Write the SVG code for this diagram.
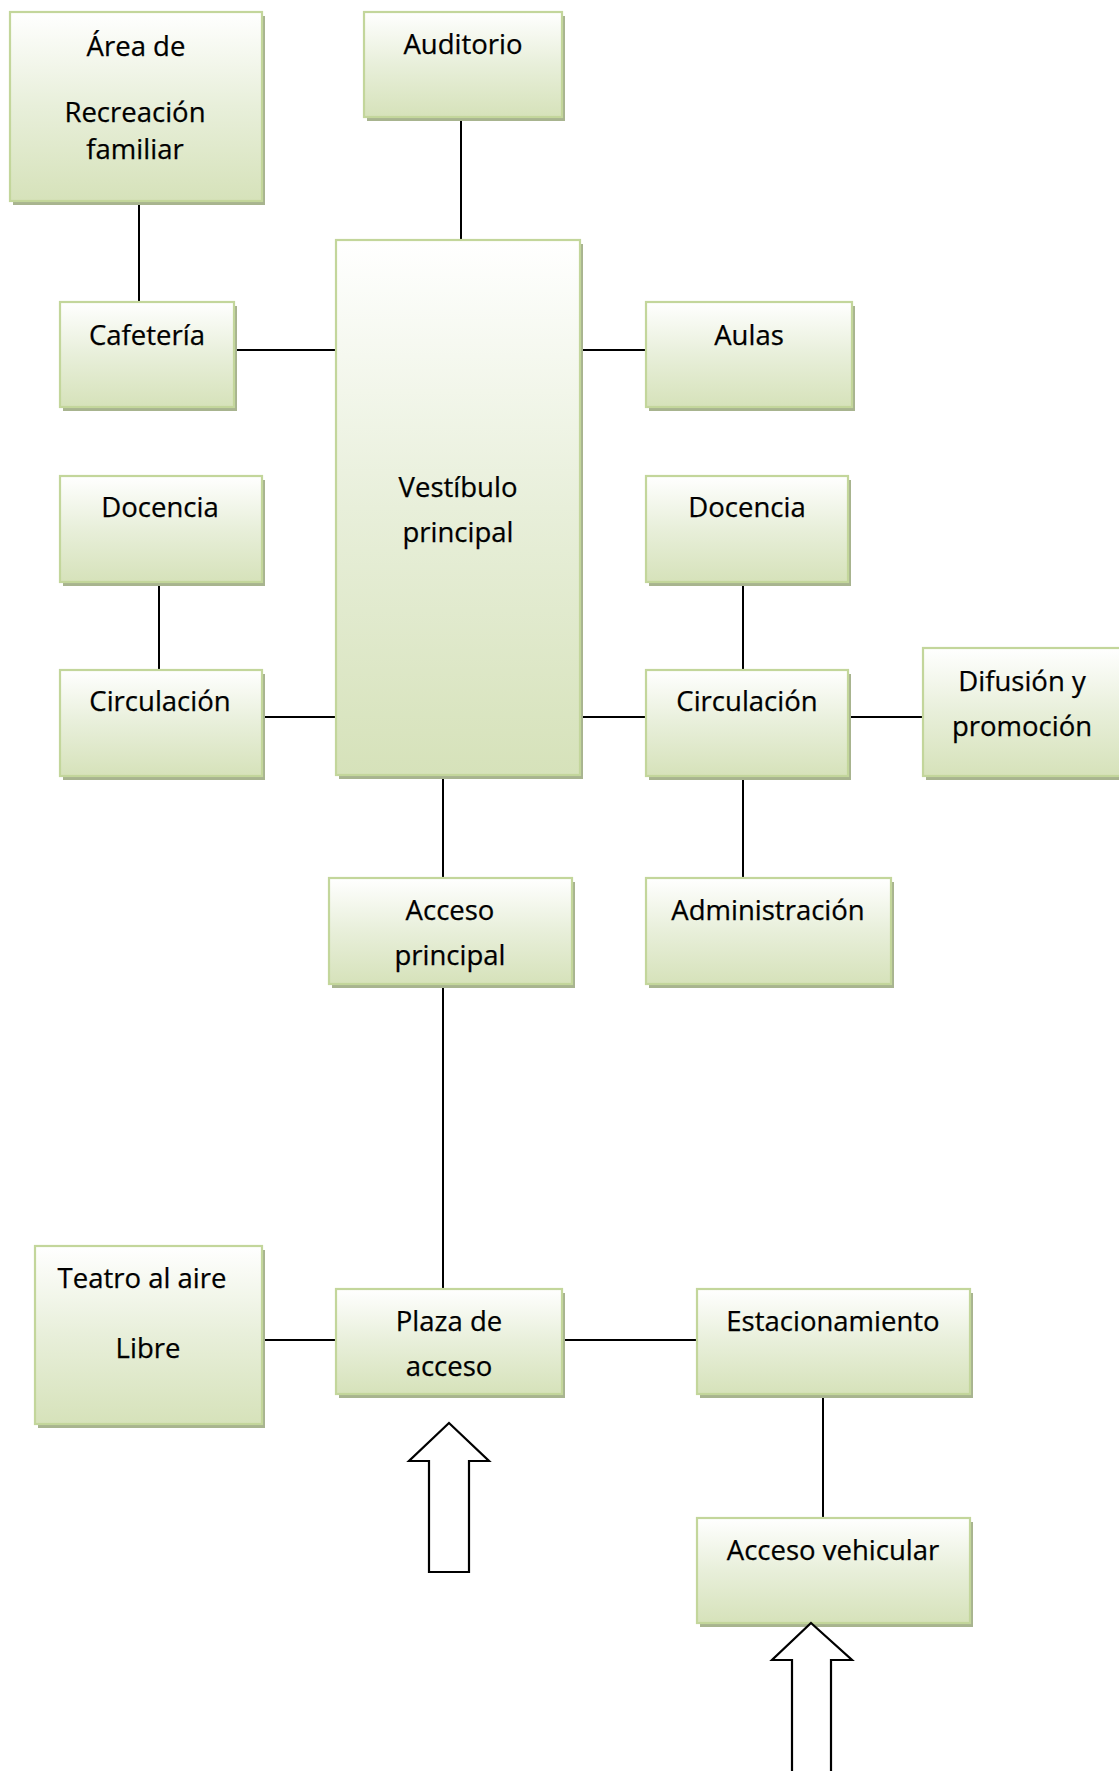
<svg xmlns="http://www.w3.org/2000/svg" width="1119" height="1771" viewBox="0 0 1119 1771">
<defs>
<linearGradient id="g" x1="0" y1="0" x2="0" y2="1">
<stop offset="0" stop-color="#ffffff"/>
<stop offset="0.5" stop-color="#e8efda"/>
<stop offset="1" stop-color="#d6e2ba"/>
</linearGradient>
</defs>
<style>
.sh{fill:#a8b48f;}
.bx{fill:url(#g);stroke:#c3d69b;stroke-width:2.2;}
.t{font-family:"Open Sans","Noto Sans",sans-serif;font-size:27.5px;fill:#000;text-anchor:middle;stroke:#000;stroke-width:0.25;}
.c{stroke:#000;stroke-width:2;fill:none;}
.ar{fill:#fff;stroke:#000;stroke-width:2.2;stroke-linejoin:miter;}
</style>
<rect width="1119" height="1771" fill="#fff"/>
<g id="connectors">
<line class="c" x1="139" y1="201" x2="139" y2="302"/>
<line class="c" x1="461" y1="117" x2="461" y2="240"/>
<line class="c" x1="234" y1="350" x2="336" y2="350"/>
<line class="c" x1="580" y1="350" x2="646" y2="350"/>
<line class="c" x1="159" y1="582" x2="159" y2="670"/>
<line class="c" x1="262" y1="717" x2="336" y2="717"/>
<line class="c" x1="580" y1="717" x2="646" y2="717"/>
<line class="c" x1="743" y1="582" x2="743" y2="670"/>
<line class="c" x1="848" y1="717" x2="923" y2="717"/>
<line class="c" x1="743" y1="776" x2="743" y2="878"/>
<line class="c" x1="443" y1="775" x2="443" y2="878"/>
<line class="c" x1="443" y1="984" x2="443" y2="1289"/>
<line class="c" x1="262" y1="1340" x2="336" y2="1340"/>
<line class="c" x1="562" y1="1340" x2="697" y2="1340"/>
<line class="c" x1="823" y1="1394" x2="823" y2="1518"/>
</g>
<g id="n-area"><rect class="sh" x="13" y="16" width="252" height="189"/><rect class="bx" x="10" y="12" width="252" height="189"/><text class="t" x="136" y="56">Área de</text><text class="t" x="135" y="122">Recreación</text><text class="t" x="135" y="159">familiar</text></g>
<g id="n-auditorio"><rect class="sh" x="367" y="16" width="198" height="105"/><rect class="bx" x="364" y="12" width="198" height="105"/><text class="t" x="463" y="54">Auditorio</text></g>
<g id="n-cafeteria"><rect class="sh" x="63" y="306" width="174" height="105"/><rect class="bx" x="60" y="302" width="174" height="105"/><text class="t" x="147" y="345">Cafetería</text></g>
<g id="n-vestibulo"><rect class="sh" x="339" y="244" width="244" height="535"/><rect class="bx" x="336" y="240" width="244" height="535"/><text class="t" x="458" y="497">Vestíbulo</text><text class="t" x="458" y="542">principal</text></g>
<g id="n-aulas"><rect class="sh" x="649" y="306" width="206" height="105"/><rect class="bx" x="646" y="302" width="206" height="105"/><text class="t" x="749" y="345">Aulas</text></g>
<g id="n-docencia-l"><rect class="sh" x="63" y="480" width="202" height="106"/><rect class="bx" x="60" y="476" width="202" height="106"/><text class="t" x="160" y="517">Docencia</text></g>
<g id="n-docencia-r"><rect class="sh" x="649" y="480" width="202" height="106"/><rect class="bx" x="646" y="476" width="202" height="106"/><text class="t" x="747" y="517">Docencia</text></g>
<g id="n-circ-l"><rect class="sh" x="63" y="674" width="202" height="106"/><rect class="bx" x="60" y="670" width="202" height="106"/><text class="t" x="160" y="711">Circulación</text></g>
<g id="n-circ-r"><rect class="sh" x="649" y="674" width="202" height="106"/><rect class="bx" x="646" y="670" width="202" height="106"/><text class="t" x="747" y="711">Circulación</text></g>
<g id="n-difusion"><rect class="sh" x="926" y="652" width="200" height="128"/><rect class="bx" x="923" y="648" width="200" height="128"/><text class="t" x="1022" y="691">Difusión y</text><text class="t" x="1022" y="736">promoción</text></g>
<g id="n-acceso-principal"><rect class="sh" x="332" y="882" width="243" height="106"/><rect class="bx" x="329" y="878" width="243" height="106"/><text class="t" x="450" y="920">Acceso</text><text class="t" x="450" y="965">principal</text></g>
<g id="n-administracion"><rect class="sh" x="649" y="882" width="245" height="106"/><rect class="bx" x="646" y="878" width="245" height="106"/><text class="t" x="768" y="920">Administración</text></g>
<g id="n-teatro"><rect class="sh" x="38" y="1250" width="227" height="178"/><rect class="bx" x="35" y="1246" width="227" height="178"/><text class="t" x="142" y="1288">Teatro al aire</text><text class="t" x="148" y="1358">Libre</text></g>
<g id="n-plaza"><rect class="sh" x="339" y="1293" width="226" height="105"/><rect class="bx" x="336" y="1289" width="226" height="105"/><text class="t" x="449" y="1331">Plaza de</text><text class="t" x="449" y="1376">acceso</text></g>
<g id="n-estacionamiento"><rect class="sh" x="700" y="1293" width="273" height="105"/><rect class="bx" x="697" y="1289" width="273" height="105"/><text class="t" x="833" y="1331">Estacionamiento</text></g>
<g id="n-acceso-vehicular"><rect class="sh" x="700" y="1522" width="273" height="105"/><rect class="bx" x="697" y="1518" width="273" height="105"/><text class="t" x="833" y="1560">Acceso vehicular</text></g>
<g id="arrow-1"><polygon class="ar" points="449,1423 489,1461 469,1461 469,1572 429,1572 429,1461 409,1461"/></g>
<g id="arrow-2"><polygon class="ar" points="811,1623 852,1660 831,1660 831,1785 792,1785 792,1660 772,1660"/></g>
</svg>
